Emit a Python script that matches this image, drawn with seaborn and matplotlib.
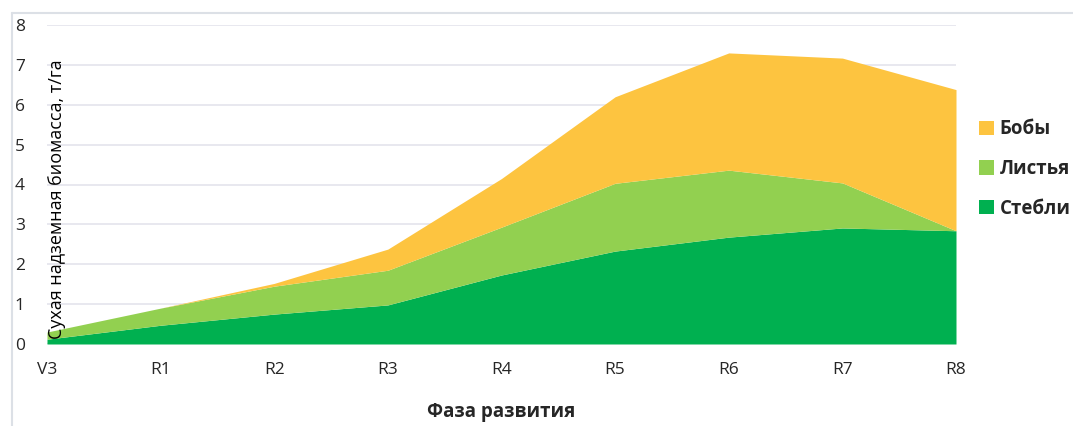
import matplotlib
matplotlib.use("Agg")
import matplotlib.pyplot as plt
from matplotlib.lines import Line2D
from matplotlib.patches import Patch
import seaborn as sns
import numpy as np

# Growth stages and dry above-ground biomass per plant part, t/ha
stages = ["V3", "R1", "R2", "R3", "R4", "R5", "R6", "R7", "R8"]
stems = [0.12, 0.47, 0.75, 0.98, 1.73, 2.33, 2.68, 2.91, 2.84]
leaves = [0.18, 0.43, 0.70, 0.87, 1.20, 1.70, 1.68, 1.13, 0.00]
pods = [0.00, 0.00, 0.07, 0.53, 1.22, 2.17, 2.94, 3.13, 3.54]

series_names = ["Стебли", "Листья", "Бобы"]
colors = ["#00B050", "#92D050", "#FDC440"]

sns.set_theme(style="white")
plt.rcParams["font.family"] = ["Open Sans", "DejaVu Sans"]

W, H = 1073, 426
fig = plt.figure(figsize=(W / 100, H / 100), dpi=100)
ax = fig.add_axes([47 / W, 1 - 344 / H, 909 / W, 319 / H])

x = np.arange(len(stages))
ax.stackplot(x, stems, leaves, pods, colors=colors, linewidth=0, zorder=2)

ax.set_xlim(0, len(stages) - 1)
ax.set_ylim(0, 8)
ax.set_yticks(range(0, 9))
ax.set_xticks(x)
ax.set_xticklabels(stages)
ax.yaxis.grid(True, color="#E4E4EC", linewidth=1.2, zorder=0)
ax.xaxis.grid(False)
for s in ax.spines.values():
    s.set_visible(False)
ax.axhline(0, color="#E4E4EC", linewidth=1.2, zorder=1)

ax.tick_params(axis="x", length=0, pad=13, labelsize=12.5, labelcolor="#262626")
ax.tick_params(axis="y", length=0, pad=16, labelsize=12.5, labelcolor="#262626")

ax.set_xlabel("Фаза развития", fontsize=13.5, fontweight="bold", labelpad=17,
              color="#262626")
ax.text(57, H - 199, "Сухая надземная биомасса, т/га", rotation=90,
        ha="center", va="center", fontsize=13, color="black",
        transform=None)

# chart frame (top and left edges)
fig.add_artist(Line2D([12 / W, 1], [1 - 13 / H, 1 - 13 / H],
                      transform=fig.transFigure, color="#DCE0E6", linewidth=1.5))
fig.add_artist(Line2D([12 / W, 12 / W], [0, 1 - 13 / H],
                      transform=fig.transFigure, color="#DCE0E6", linewidth=1.5))

handles = [Patch(facecolor=c, edgecolor="none") for c in colors[::-1]]
leg = fig.legend(handles, series_names[::-1], loc="center left",
                 bbox_to_anchor=(979 / W, 1 - 169 / H), frameon=False,
                 borderpad=0, borderaxespad=0,
                 handlelength=0.8, handleheight=0.8, handletextpad=0.3,
                 labelspacing=1.05, prop={"size": 13.5, "weight": "bold"})

fig.savefig("out.png", dpi=100)
